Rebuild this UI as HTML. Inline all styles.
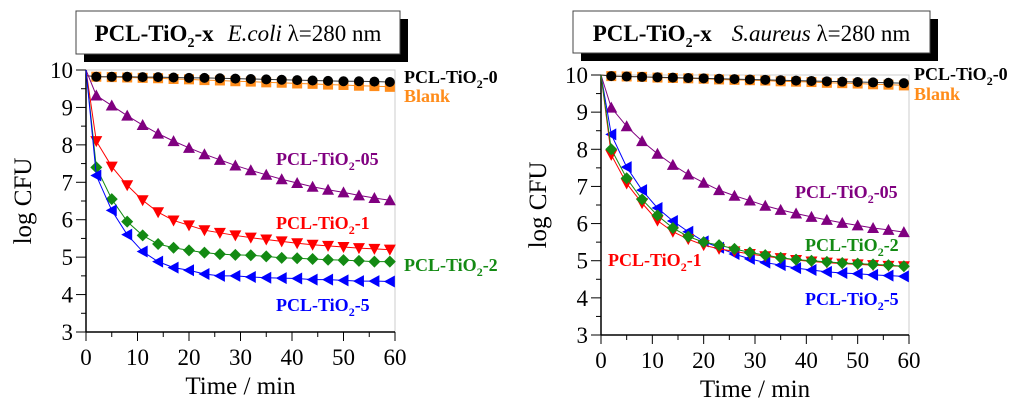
<!DOCTYPE html>
<html><head><meta charset="utf-8"><style>
body{margin:0;background:#fff;}
svg{display:block;}
text,tspan{font-family:"Liberation Serif","Times New Roman",serif;}
</style></head><body>
<svg id="chart" width="1024" height="409" viewBox="0 0 1024 409" font-family="Liberation Serif, serif"></svg>
<script>
const times=[0,2,5,8,11,14,17,20,23,26,29,32,35,38,41,44,47,50,53,56,59];
const yTicks=[3,4,5,6,7,8,9,10];
const xTicks=[0,10,20,30,40,50,60];
// E. coli
const ecBlack=[9.85,9.82,9.82,9.82,9.81,9.81,9.80,9.79,9.79,9.78,9.77,9.76,9.75,9.74,9.73,9.72,9.71,9.70,9.70,9.69,9.68];
const ecBlank=[9.85,9.82,9.81,9.80,9.79,9.78,9.76,9.75,9.73,9.72,9.70,9.69,9.67,9.66,9.64,9.63,9.61,9.60,9.58,9.57,9.55];
const ecPurple=[10,9.32,9.05,8.78,8.53,8.3,8.1,7.92,7.75,7.6,7.45,7.32,7.2,7.08,6.98,6.88,6.8,6.73,6.65,6.58,6.52];
const ecRed=[10,8.1,7.42,6.92,6.52,6.2,5.98,5.85,5.72,5.65,5.58,5.52,5.47,5.42,5.37,5.33,5.3,5.27,5.24,5.22,5.2];
const ecGreen=[10,7.4,6.55,5.95,5.58,5.35,5.25,5.18,5.12,5.08,5.06,5.05,5.02,4.98,4.97,4.95,4.93,4.92,4.9,4.88,4.88];
const ecBlue=[10,7.18,6.25,5.6,5.15,4.88,4.72,4.65,4.55,4.5,4.5,4.47,4.45,4.44,4.43,4.4,4.4,4.38,4.36,4.36,4.35];
// S. aureus
const saBlack=[10,9.97,9.96,9.95,9.94,9.93,9.92,9.91,9.90,9.89,9.88,9.87,9.86,9.85,9.84,9.83,9.82,9.81,9.80,9.79,9.78];
const saBlank=[10,9.97,9.96,9.95,9.93,9.92,9.91,9.90,9.88,9.87,9.86,9.85,9.83,9.82,9.81,9.79,9.78,9.77,9.75,9.74,9.72];
const saPurple=[10,9.12,8.62,8.22,7.88,7.58,7.32,7.1,6.9,6.75,6.62,6.48,6.37,6.27,6.18,6.1,6.02,5.95,5.88,5.83,5.77];
const saRed=[10,7.85,7.08,6.55,6.08,5.78,5.58,5.42,5.32,5.25,5.18,5.12,5.07,5.02,4.98,4.95,4.92,4.9,4.88,4.86,4.85];
const saGreen=[10,8.0,7.22,6.65,6.22,5.88,5.65,5.5,5.42,5.32,5.22,5.15,5.08,5.03,5.0,4.97,4.94,4.92,4.9,4.88,4.85];
const saBlue=[10,8.4,7.52,6.9,6.42,6.07,5.78,5.52,5.35,5.18,5.05,4.95,4.88,4.8,4.75,4.7,4.67,4.65,4.62,4.6,4.58];

const NS="http://www.w3.org/2000/svg";
const svg=document.getElementById('chart');
function mk(tag,attrs,parent,txt){const e=document.createElementNS(NS,tag);for(const k in attrs)e.setAttribute(k,attrs[k]);if(txt!==undefined)e.textContent=txt;(parent||svg).appendChild(e);return e;}
const TICKSTYLE='font-family:"Liberation Serif",serif;font-size:23px;';
const LBLSTYLE='font-family:"Liberation Serif",serif;font-size:18px;font-weight:bold;';

function marker(g,shape,x,y,color){
  const s=5;let e;
  if(shape==='circle')e=mk('circle',{cx:x,cy:y,r:s,fill:color},g);
  else if(shape==='square')e=mk('rect',{x:x-s,y:y-s,width:2*s,height:2*s,fill:color},g);
  else if(shape==='up')e=mk('polygon',{points:`${x},${y-s-1} ${x+s+1},${y+s} ${x-s-1},${y+s}`,fill:color},g);
  else if(shape==='down')e=mk('polygon',{points:`${x},${y+s+1} ${x+s+1},${y-s} ${x-s-1},${y-s}`,fill:color},g);
  else if(shape==='diamond')e=mk('polygon',{points:`${x},${y-s-1} ${x+s+1},${y} ${x},${y+s+1} ${x-s-1},${y}`,fill:color},g);
  else e=mk('polygon',{points:`${x-s-1},${y} ${x+s},${y-s-1} ${x+s},${y+s+1}`,fill:color},g);
  
  
}

function drawPanel(cfg){
  const g=mk('g',{},svg);
  
  
  const X=t=>cfg.x0+(t/60)*(cfg.x1-cfg.x0);
  const Y=v=>cfg.y0+(10-v)/7*(cfg.y1-cfg.y0);
  const sh=mk('rect',{x:cfg.bx+8,y:cfg.by+8,width:cfg.bw,height:cfg.bh,fill:'#000'},g);
  
  const bx=mk('rect',{x:cfg.bx,y:cfg.by,width:cfg.bw,height:cfg.bh,fill:'#fff',stroke:'#444','stroke-width':1},g);
  
  const tt=mk('text',{x:cfg.bx+cfg.bw/2,y:cfg.by+30,'text-anchor':'middle','font-size':'23'},g);
  
  mk('tspan',{'font-weight':'bold'},tt,'PCL-TiO');
  mk('tspan',{'font-weight':'bold','font-size':'14',dy:'6'},tt,'2');
  mk('tspan',{'font-weight':'bold',dy:'-6'},tt,'-x');
  mk('tspan',{'font-style':'italic',dx:cfg.gap},tt,cfg.org);
  mk('tspan',{},tt,' λ=280 nm');
  const fr=mk('rect',{x:cfg.x0,y:cfg.y0,width:cfg.x1-cfg.x0,height:cfg.y1-cfg.y0,fill:'none',stroke:'#ccc','stroke-width':1},g);
  
  const ya=mk('line',{x1:cfg.x0,y1:cfg.y0,x2:cfg.x0,y2:cfg.y1,stroke:'#000','stroke-width':1.5},g);
  
  const xa=mk('line',{x1:cfg.x0,y1:cfg.y1,x2:cfg.x1,y2:cfg.y1,stroke:'#000','stroke-width':1.5},g);
  
  yTicks.forEach((v,i)=>{
    mk('line',{x1:cfg.x0-10,y1:Y(v),x2:cfg.x0,y2:Y(v),stroke:'#000'},g);
    if(i<yTicks.length-1)mk('line',{x1:cfg.x0-5,y1:Y(v+0.5),x2:cfg.x0,y2:Y(v+0.5),stroke:'#000'},g);
    const t=mk('text',{x:cfg.x0-13,y:Y(v)+8,'text-anchor':'end',style:TICKSTYLE},g,String(v));
    
  });
  xTicks.forEach((v,i)=>{
    mk('line',{x1:X(v),y1:cfg.y1,x2:X(v),y2:cfg.y1+9,stroke:'#000'},g);
    if(i<xTicks.length-1)mk('line',{x1:X(v+5),y1:cfg.y1,x2:X(v+5),y2:cfg.y1+5,stroke:'#000'},g);
    const t=mk('text',{x:X(v),y:cfg.y1+33,'text-anchor':'middle',style:TICKSTYLE},g,String(v));
    
  });
  const xt=mk('text',{x:(cfg.x0+cfg.x1)/2,y:cfg.y1+62,'text-anchor':'middle','font-size':'25'},g,'Time / min');
  
  const cy=(cfg.y0+cfg.y1)/2;
  const yt=mk('text',{x:cfg.x0-55,y:cy,'text-anchor':'middle','font-size':'25',transform:`rotate(-90 ${cfg.x0-55} ${cy})`},g,'log CFU');
  
  cfg.series.forEach(s=>{
    const sg=mk('g',{},g);
    
    
    const pts=s.vals.map((v,i)=>X(times[i])+','+Y(v)).join(' ');
    mk('polyline',{points:pts,fill:'none',stroke:s.line,'stroke-width':1},sg);
    s.vals.forEach((v,i)=>{if(i>0)marker(sg,s.shape,X(times[i]),Y(v),s.color);});
  });
  cfg.labels.forEach(l=>{
    const t=mk('text',{x:l.x,y:l.y,fill:l.c,style:LBLSTYLE},g);
    
    if(l.t==='Blank'){t.textContent='Blank';return;}
    mk('tspan',{},t,'PCL-TiO');
    mk('tspan',{'font-size':'12',dy:'5'},t,'2');
    mk('tspan',{dy:'-5'},t,l.t);
  });
}

drawPanel({name:'ecoli-panel',org:'E.coli',gap:14,x0:86,x1:395,y0:70,y1:332,bx:76,by:11,bw:324,bh:43,
  series:[
    {name:'series-blank',vals:ecBlank,shape:'square',color:'#ff8c1a',line:'#ff8c1a'},
    {name:'series-pcl-tio2-0',vals:ecBlack,shape:'circle',color:'#000',line:'#333'},
    {name:'series-pcl-tio2-05',vals:ecPurple,shape:'up',color:'#800080',line:'#800080'},
    {name:'series-pcl-tio2-1',vals:ecRed,shape:'down',color:'#ff0000',line:'#ff0000'},
    {name:'series-pcl-tio2-2',vals:ecGreen,shape:'diamond',color:'#138a13',line:'#138a13'},
    {name:'series-pcl-tio2-5',vals:ecBlue,shape:'left',color:'#0000ff',line:'#0000ff'}],
  labels:[{x:404,y:83,c:'#000',t:'-0'},{x:404,y:102,c:'#ff8c1a',t:'Blank'},{x:276,y:165,c:'#800080',t:'-05'},
    {x:276,y:229,c:'#ff0000',t:'-1'},{x:404,y:271,c:'#138a13',t:'-2'},{x:276,y:311,c:'#0000ff',t:'-5'}]});

drawPanel({name:'saureus-panel',org:'S.aureus',gap:20,x0:601,x1:909,y0:75,y1:335,bx:573,by:11,bw:357,bh:42,
  series:[
    {name:'series-blank',vals:saBlank,shape:'square',color:'#ff8c1a',line:'#ff8c1a'},
    {name:'series-pcl-tio2-0',vals:saBlack,shape:'circle',color:'#000',line:'#333'},
    {name:'series-pcl-tio2-05',vals:saPurple,shape:'up',color:'#800080',line:'#800080'},
    {name:'series-pcl-tio2-5',vals:saBlue,shape:'left',color:'#0000ff',line:'#0000ff'},
    {name:'series-pcl-tio2-1',vals:saRed,shape:'down',color:'#ff0000',line:'#ff0000'},
    {name:'series-pcl-tio2-2',vals:saGreen,shape:'diamond',color:'#138a13',line:'#138a13'}],
  labels:[{x:914,y:80,c:'#000',t:'-0'},{x:914,y:100,c:'#ff8c1a',t:'Blank'},{x:795,y:198,c:'#800080',t:'-05'},
    {x:805,y:251,c:'#138a13',t:'-2'},{x:608,y:266,c:'#ff0000',t:'-1'},{x:805,y:305,c:'#0000ff',t:'-5'}]});
</script>
</body></html>
